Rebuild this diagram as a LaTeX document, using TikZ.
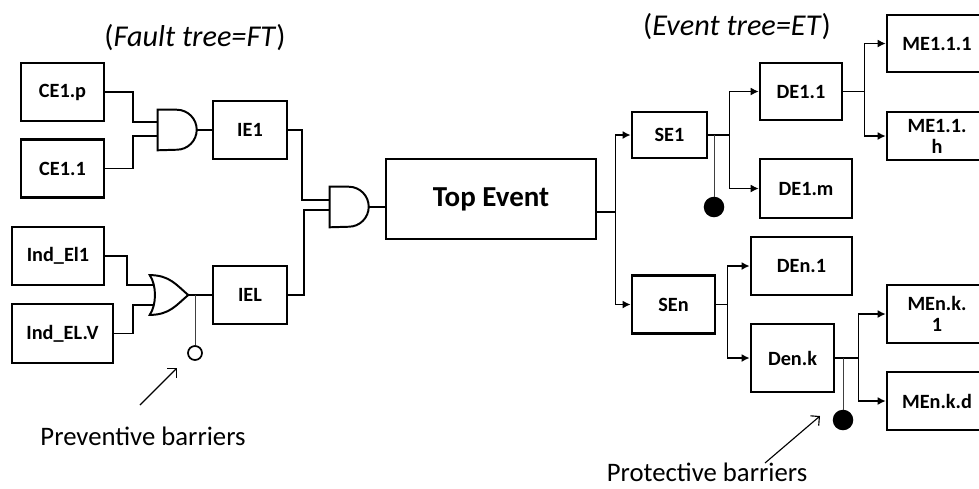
\documentclass[tikz,border=0pt]{standalone}
\usepackage{fontspec}
\setmainfont{Carlito}
\usepackage{tikz}
\usetikzlibrary{arrows.meta, calc}

\begin{document}
\begin{tikzpicture}[
    x=0.025cm, y=-0.025cm,
    font=\fontsize{14.4}{15}\selectfont\bfseries,
    event/.style={
        draw,
        line width=1.8pt,
        minimum width=2.08cm,
        minimum height=1.45cm,
        align=center,
        inner sep=1pt
    },
    topevent/.style={
        event,
        minimum width=5.25cm,
        minimum height=2cm,
        font=\fontsize{20.6}{24}\selectfont\bfseries
    },
    gate/.style={
        minimum width=0.975cm,
        minimum height=1cm,
        inner sep=0pt
    },
    wire/.style={line width=1.4pt},
    arrow/.style={
        -{Latex[length=2mm, width=2mm]},
        line width=1.1pt
    },
    barrier/.style={
        circle,
        draw,
        line width=1.2pt,
        minimum size=0.35cm,
        inner sep=0pt
    },
    tie/.style={line width=0.6pt, draw=black!75},
    note/.style={font=\fontsize{19}{21}\selectfont},
    title/.style={font=\fontsize{21.5}{23}\selectfont},
    pointer/.style={
        -{Straight Barb[length=1.6mm]},
        line width=0.8pt
    }
]

\path[fill=white] (0,0) rectangle (979,488);
\useasboundingbox (0,0) rectangle (979,488);

% Fault tree
\node[title] (ft) at (195,38) {(\textit{Fault tree=FT})};

\node[event] (ce1p) at (62.5,92) {CE1.p};
\node[event] (ce11) at (62.5,168.5) {CE1.1};
\node[gate] (g1) at (177.5,130) {};
\draw[wire] (g1.north west) -- ++(19,0) arc[start angle=90, end angle=-90, radius=0.5cm] -- (g1.south west) -- cycle;
\node[event, minimum width=1.85cm] (ie1) at (250,130) {IE1};

\draw[wire] (ce1p.east) -- ++(28,0) |- ($(g1.west)+(0,-8)$);
\draw[wire] (ce11.east) -- ++(28,0) |- ($(g1.west)+(0,6)$);
\draw[wire] (g1.east) -- (ie1.west);

\node[event, minimum width=2.3cm] (ind1) at (58,256) {Ind\_El1};
\node[event, minimum width=2.53cm, minimum height=1.48cm] (indv) at (62.5,333.5) {Ind\_EL.V};
\node[gate, minimum width=0.95cm, minimum height=0.98cm] (g3) at (169,295) {};
\draw[wire] (g3.north west) .. controls +(20,0) and +(-12,-10) .. (g3.east)
    .. controls +(-12,10) and +(20,0) .. (g3.south west)
    .. controls +(7,-10) and +(7,10) .. cycle;
\node[event, minimum width=1.85cm] (iel) at (250,295) {IEL};

\draw[wire] (ind1.east) -- ++(22,0) |- ($(g3.west)+(4,-10)$);
\draw[wire] (indv.east) -- ++(19,0) |- ($(g3.west)+(4,10)$);
\draw[wire] (g3.east) -- (iel.west);

% preventive barrier
\node[barrier] (pb) at (195,353) {};
\draw[tie] (pb.north) -- (pb |- g3.east);
\node[note] (prev) at (143,436) {Preventive barriers};
\coordinate (pa1) at (140,405);
\coordinate (pa2) at (177,368);
\draw[pointer] (pa1) -- (pa2);

\node[gate] (g2) at (349.5,207) {};
\draw[wire] (g2.north west) -- ++(19,0) arc[start angle=90, end angle=-90, radius=0.5cm] -- (g2.south west) -- cycle;
\draw[wire] (ie1.east) -- ++(14,0) |- ($(g2.west)+(0,-7)$);
\draw[wire] (iel.east) -- ++(16,0) |- ($(g2.west)+(0,3)$);

\node[topevent] (top) at (491,199) {Top Event};
\draw[wire] (g2.east) -- (g2.east -| top.west);

% Event tree
\node[title] (et) at (737,27) {(\textit{Event tree=ET})};

\node[event, minimum width=1.88cm, minimum height=1.15cm] (se1) at (669.5,135) {SE1};
\node[event] (sen) at (673.5,304.5) {SEn};
\coordinate (tj) at ($(top.east)+(18,13)$);
\draw[arrow] ($(top.east)+(0,13)$) -- (tj) |- (se1);
\draw[arrow] (tj) |- (sen);

\node[event, minimum width=2.05cm, minimum height=1.43cm] (de11) at (801,91.5) {DE1.1};
\node[event, minimum width=2.3cm, minimum height=1.48cm] (de1m) at (806,188.5) {DE1.m};
\draw[arrow] (se1.east) -- ++(21,0) |- (de11);
\draw[arrow] (se1.east) -- ++(21,0) |- (de1m);

\node[event, minimum width=2.5cm, minimum height=1.43cm] (me111) at (937,43.5) {ME1.1.1};
\node[event, minimum width=2.5cm, minimum height=1.2cm] (me11h) at (937,136) {ME1.1.\\h};
\draw[arrow] (de11.east) -- ++(21,0) |- (me111);
\draw[arrow] (de11.east) -- ++(21,0) |- (me11h);

\node[barrier, fill=black, minimum size=0.47cm] (pb1) at (714,207) {};
\draw[tie] (pb1.north) -- (pb1 |- se1.east);

\node[event, minimum width=2.53cm] (den1) at (801.5,266) {DEn.1};
\node[event, minimum height=1.7cm] (denk) at (792.5,358) {Den.k};
\draw[arrow] (sen.east) -- ++(11,0) |- (den1);
\draw[arrow] (sen.east) -- ++(11,0) |- (denk);

\node[event, minimum width=2.5cm] (menk1) at (937,314) {MEn.k.\\1};
\node[event, minimum width=2.5cm] (menkd) at (937,401) {MEn.k.d};
\draw[arrow] (denk.east) -- ++(23,0) |- (menk1);
\draw[arrow] (denk.east) -- ++(23,0) |- (menkd);

% protective barrier
\node[barrier, fill=black, minimum size=0.47cm] (pb2) at (843,420) {};
\draw[tie] (pb2.north) -- (pb2 |- denk.east);
\node[note] (prot) at (707,472) {Protective barriers};
\coordinate (pa3) at (765,463);
\coordinate (pa4) at (820,416);
\draw[pointer] (pa3) -- (pa4);

\end{tikzpicture}
\end{document}
